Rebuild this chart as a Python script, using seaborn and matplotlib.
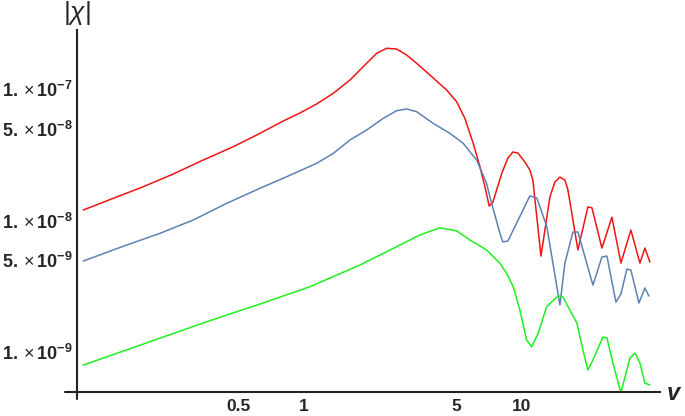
import numpy as np
import pandas as pd
import matplotlib
matplotlib.use("Agg")
import matplotlib.pyplot as plt
import matplotlib.ticker as mticker
import seaborn as sns

# values
red_x = [0.0972, 0.1334, 0.1832, 0.2514, 0.3452, 0.4739, 0.6283, 0.8035, 0.9587, 1.144,
         1.363, 1.626, 1.871, 2.156, 2.396, 2.662, 2.959, 3.289, 3.784, 4.515, 5.018,
         5.475, 5.978, 6.418, 6.766, 7.079, 7.362, 8.094, 8.627, 9.094, 9.588, 10.32,
         10.88, 11.23, 12.23, 13.44, 14.17, 14.94, 15.75, 16.26, 18.07, 20.08, 20.95,
         23.28, 25.88, 28.46, 31.62, 34.78, 36.67, 38.65]
red_y = [1.202e-8, 1.475e-8, 1.807e-8, 2.258e-8, 2.884e-8, 3.64e-8, 4.60e-8, 5.71e-8,
         6.57e-8, 7.69e-8, 9.27e-8, 1.170e-7, 1.478e-7, 1.868e-7, 2.040e-7, 2.015e-7,
         1.814e-7, 1.568e-7, 1.278e-7, 9.83e-8, 8.00e-8, 5.98e-8, 3.865e-8, 2.566e-8,
         1.807e-8, 1.289e-8, 1.38e-8, 2.30e-8, 2.988e-8, 3.32e-8, 3.26e-8, 2.786e-8,
         2.42e-8, 2.03e-8, 5.37e-9, 1.51e-8, 1.963e-8, 2.14e-8, 2.03e-8, 1.71e-8, 5.97e-9,
         1.27e-8, 1.25e-8, 6.18e-9, 1.06e-8, 4.75e-9, 8.47e-9, 4.75e-9, 6.18e-9, 4.83e-9]

blue_x = [0.0972, 0.1537, 0.2185, 0.3106, 0.4418, 0.6283, 0.8331, 1.144, 1.363, 1.626,
          1.940, 2.311, 2.662, 2.959, 3.289, 3.918, 4.674, 5.379, 6.197, 6.887, 7.133,
          7.93, 8.18, 8.627, 10.88, 11.72, 13.02, 14.94, 15.75, 17.14, 18.07, 21.17,
          23.28, 24.55, 26.99, 28.46, 30.32, 31.62, 34.42, 36.67, 38.24]
blue_y = [4.92e-9, 6.51e-9, 7.99e-9, 1.009e-8, 1.351e-8, 1.758e-8, 2.153e-8, 2.723e-8,
          3.24e-8, 4.094e-8, 4.88e-8, 5.98e-8, 6.84e-8, 7.05e-8, 6.72e-8, 5.48e-8, 4.60e-8,
          3.865e-8, 2.884e-8, 1.918e-8, 1.51e-8, 7.99e-9, 6.87e-9, 6.99e-9, 1.54e-8,
          1.48e-8, 8.93e-9, 2.28e-9, 4.75e-9, 8.18e-9, 8.18e-9, 3.23e-9, 5.27e-9, 5.37e-9,
          2.40e-9, 2.76e-9, 4.28e-9, 4.20e-9, 2.36e-9, 3.07e-9, 2.67e-9]

green_x = [0.0972, 0.3773, 0.6283, 1.065, 1.807, 2.232, 2.756, 3.405, 4.206, 5.018, 5.774,
           6.887, 7.93, 8.508, 9.123, 9.79, 10.51, 11.08, 11.88, 12.98, 14.68, 15.42,
           17.88, 19.05, 20.08, 21.17, 23.53, 24.55, 26.15, 28.46, 31.29, 33.0, 34.78,
           36.67, 38.65]
green_y = [7.96e-10, 1.751e-9, 2.317e-9, 3.137e-9, 4.59e-9, 5.463e-9, 6.51e-9, 7.76e-9,
           8.81e-9, 8.36e-9, 7.11e-9, 5.97e-9, 4.73e-9, 3.97e-9, 3.137e-9, 2.086e-9,
           1.234e-9, 1.097e-9, 1.387e-9, 2.21e-9, 2.68e-9, 2.62e-9, 1.66e-9, 1.036e-9,
           7.30e-10, 8.69e-10, 1.30e-9, 1.28e-9, 8.25e-10, 4.9e-10, 9.0e-10, 9.82e-10,
           8.25e-10, 5.81e-10, 5.61e-10]

x_ticks = [0.5, 1, 5, 10]
x_tick_labels = ["0.5", "1", "5", "10"]
y_ticks = [1e-9, 5e-9, 1e-8, 5e-8, 1e-7]
y_tick_labels = [r"$\mathbf{1.}\times\mathbf{10^{-9}}$", r"$\mathbf{5.}\times\mathbf{10^{-9}}$",
                 r"$\mathbf{1.}\times\mathbf{10^{-8}}$", r"$\mathbf{5.}\times\mathbf{10^{-8}}$",
                 r"$\mathbf{1.}\times\mathbf{10^{-7}}$"]

df = pd.concat([
    pd.DataFrame({"v": red_x, "chi": red_y, "curve": "red"}),
    pd.DataFrame({"v": blue_x, "chi": blue_y, "curve": "blue"}),
    pd.DataFrame({"v": green_x, "chi": green_y, "curve": "green"}),
])
palette = {"red": "#f01414", "blue": "#5e81b5", "green": "#1ef01e"}

sns.set_style("white")
plt.rcParams["font.family"] = ["Liberation Sans", "DejaVu Sans"]
plt.rcParams["mathtext.fontset"] = "custom"
plt.rcParams["mathtext.rm"] = "Liberation Sans"
plt.rcParams["mathtext.bf"] = "Liberation Sans:bold"
plt.rcParams["mathtext.it"] = "Liberation Sans:italic"

fig = plt.figure(figsize=(6.85, 4.16), dpi=100)
ax = fig.add_axes([0.1124, 0.0577, 0.8511, 0.8702])

sns.lineplot(data=df, x="v", y="chi", hue="curve", palette=palette, sort=False,
             estimator=None, linewidth=1.1, legend=False, ax=ax)

ax.set_xscale("log")
ax.set_yscale("log")
ax.set_xlim(0.091, 43)
ax.set_ylim(4.97e-10, 2.81e-7)

ax.set_xticks(x_ticks)
ax.set_xticklabels(x_tick_labels, fontweight="bold", fontsize=12.5)
ax.set_yticks(y_ticks)
ax.set_yticklabels(y_tick_labels, fontsize=13)
ax.xaxis.set_minor_locator(mticker.LogLocator(base=10, subs=np.arange(1, 10), numticks=20))
ax.yaxis.set_minor_locator(mticker.LogLocator(base=10, subs=np.arange(1, 10), numticks=20))
ax.xaxis.set_minor_formatter(mticker.NullFormatter())
ax.yaxis.set_minor_formatter(mticker.NullFormatter())
ax.tick_params(which="major", direction="in", length=5, width=0.8, color="#b0b0b0")
ax.tick_params(which="minor", direction="in", length=3, width=0.6, color="#cccccc")
ax.tick_params(axis="x", which="major", pad=5)
ax.tick_params(axis="y", which="major", pad=3)
ax.set_xlabel("")
ax.set_ylabel("")

for s in ["top", "right"]:
    ax.spines[s].set_visible(False)
for s in ["left", "bottom"]:
    ax.spines[s].set_linewidth(1.5)
    ax.spines[s].set_color("#222222")

# axes cross a little past each other, as in the reference
ax.plot([-0.02, 0], [0, 0], transform=ax.transAxes, color="#222222", lw=1.5, clip_on=False)
ax.plot([0, 0], [-0.02, 0], transform=ax.transAxes, color="#222222", lw=1.5, clip_on=False)

fig.text(0.112, 0.968, r"$|\chi|$", fontsize=19, ha="center", va="center")
fig.text(0.983, 0.055, "v", fontsize=17, fontweight="bold", fontstyle="italic",
         ha="center", va="center")

fig.savefig("out.png", dpi=100)
